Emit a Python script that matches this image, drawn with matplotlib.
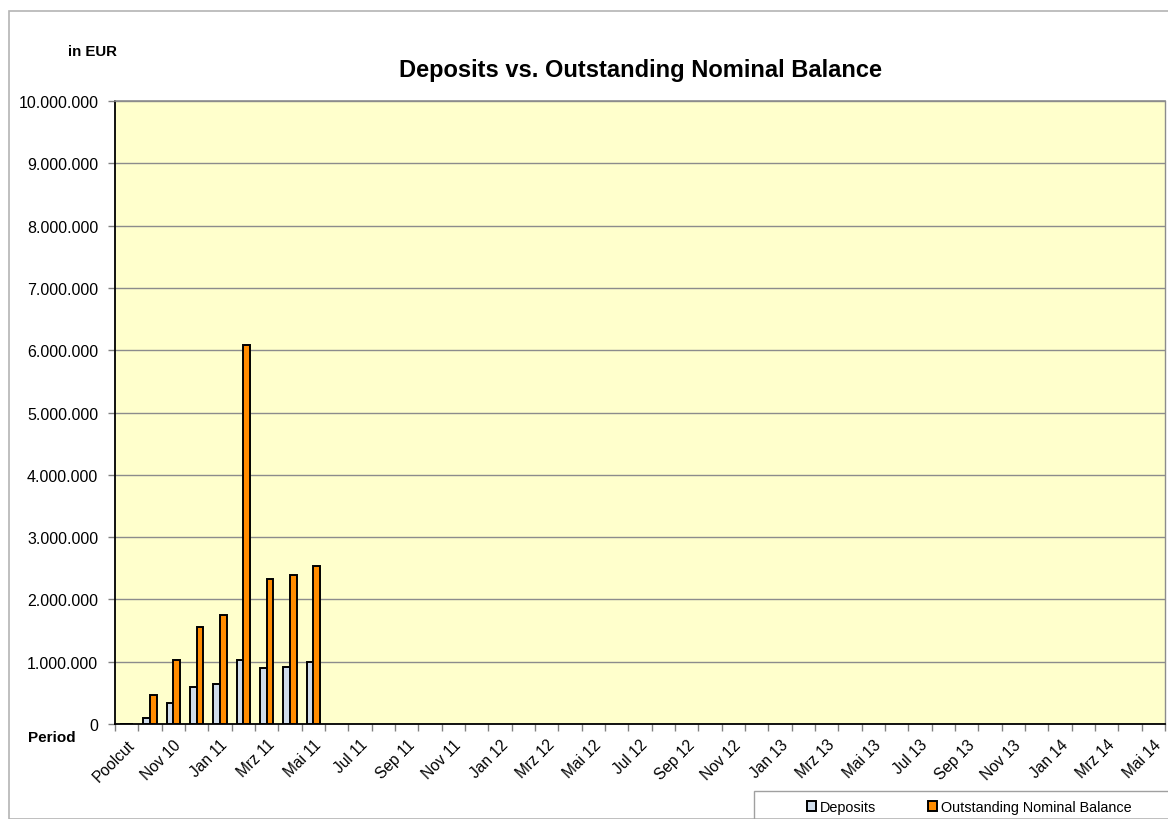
import matplotlib
matplotlib.use("Agg")
import matplotlib.pyplot as plt
from matplotlib.patches import Rectangle
from matplotlib.ticker import FuncFormatter, FixedLocator
import numpy as np

plt.rcParams['font.family'] = ['Liberation Sans', 'DejaVu Sans']

periods = ["Poolcut", "Okt 10", "Nov 10", "Dez 10",
           "Jan 11", "Feb 11", "Mrz 11", "Apr 11", "Mai 11", "Jun 11",
           "Jul 11", "Aug 11", "Sep 11", "Okt 11", "Nov 11", "Dez 11",
           "Jan 12", "Feb 12", "Mrz 12", "Apr 12", "Mai 12", "Jun 12",
           "Jul 12", "Aug 12", "Sep 12", "Okt 12", "Nov 12", "Dez 12",
           "Jan 13", "Feb 13", "Mrz 13", "Apr 13", "Mai 13", "Jun 13",
           "Jul 13", "Aug 13", "Sep 13", "Okt 13", "Nov 13", "Dez 13",
           "Jan 14", "Feb 14", "Mrz 14", "Apr 14", "Mai 14"]

deposits = [0, 90000, 330000, 590000, 650000, 1030000, 900000, 910000, 1000000]
outstanding = [0, 460000, 1020000, 1550000, 1750000, 6080000, 2330000, 2390000, 2540000]

W, H = 1168, 820
fig = plt.figure(figsize=(W / 100, H / 100), dpi=100)

# outer chart border
fig.patches.append(Rectangle((9 / W, 0), 1.2, 1 - 12 / H, transform=fig.transFigure,
                             fill=False, edgecolor='#B4B4B4', linewidth=1.2, clip_on=False))

left, right, top, bottom = 115, 1165, 102, 725
ax = fig.add_axes([left / W, 1 - bottom / H, (right - left) / W, (bottom - top) / H])
ax.set_facecolor('#FFFFCC')

n = len(periods)
x = np.arange(len(deposits))
bw = 0.285
b1 = ax.bar(x - bw / 2, deposits, width=bw, color='#CFDCEA', edgecolor='black',
            linewidth=1.4, label='Deposits', zorder=3)
b2 = ax.bar(x + bw / 2, outstanding, width=bw, color='#FF8C00', edgecolor='black',
            linewidth=1.4, label='Outstanding Nominal Balance', zorder=3)

ax.set_xlim(-0.5, n - 0.5)
ax.set_ylim(0, 10_000_000)
ax.set_yticks(np.arange(0, 10_000_001, 1_000_000))
ax.yaxis.set_major_formatter(FuncFormatter(lambda v, p: f"{int(v):,}".replace(",", ".")))
ax.yaxis.grid(True, color='#8C8C8C', linewidth=1.0, zorder=1)
ax.set_axisbelow(True)

# category boundary ticks (major) and labels every other category (minor)
ax.xaxis.set_major_locator(FixedLocator(np.arange(-0.5, n, 1.0)))
ax.xaxis.set_major_formatter(FuncFormatter(lambda v, p: ""))
label_pos = np.arange(0, n, 2)
ax.set_xticks(label_pos, [periods[i] for i in label_pos], minor=True)
ax.tick_params(axis='x', which='major', length=5, color='#808080', width=1)
ax.tick_params(axis='x', which='minor', length=0, pad=9)
for lab in ax.get_xticklabels(minor=True):
    lab.set_rotation(45)
    lab.set_ha('right')
    lab.set_rotation_mode('anchor')
    lab.set_fontsize(11.2)
ax.tick_params(axis='y', length=5, color='#808080', width=1, labelsize=11.5, pad=7)

for s in ['left', 'bottom']:
    ax.spines[s].set_color('black')
    ax.spines[s].set_linewidth(1.3)
ax.spines['top'].set_color('#8C8C8C')
ax.spines['top'].set_linewidth(1.2)
ax.spines['right'].set_color('#8C8C8C')
ax.spines['right'].set_linewidth(1.0)

fig.text(641 / W, 1 - 71 / H, "Deposits vs. Outstanding Nominal Balance",
         ha='center', va='center', fontsize=17, fontweight='bold')
fig.text(93 / W, 1 - 52 / H, "in EUR", ha='center', va='center',
         fontsize=10.8, fontweight='bold')
fig.text(52 / W, 1 - 738 / H, "Period", ha='center', va='center',
         fontsize=11, fontweight='bold')

# legend box
fig.patches.append(Rectangle((754 / W, -0.1), 1.0, (0.1 + 1 - 792 / H), transform=fig.transFigure,
                             fill=False, edgecolor='#A0A0A0', linewidth=1.0, clip_on=False))
leg = fig.legend(handles=[b1, b2], loc='center left', bbox_to_anchor=(807 / W, 1 - 808 / H),
                 ncol=2, frameon=False, fontsize=10.4, handlelength=0.65, handleheight=0.65,
                 handletextpad=0.25, columnspacing=3.55, borderaxespad=0, borderpad=0)

fig.savefig("out.png", dpi=100)
